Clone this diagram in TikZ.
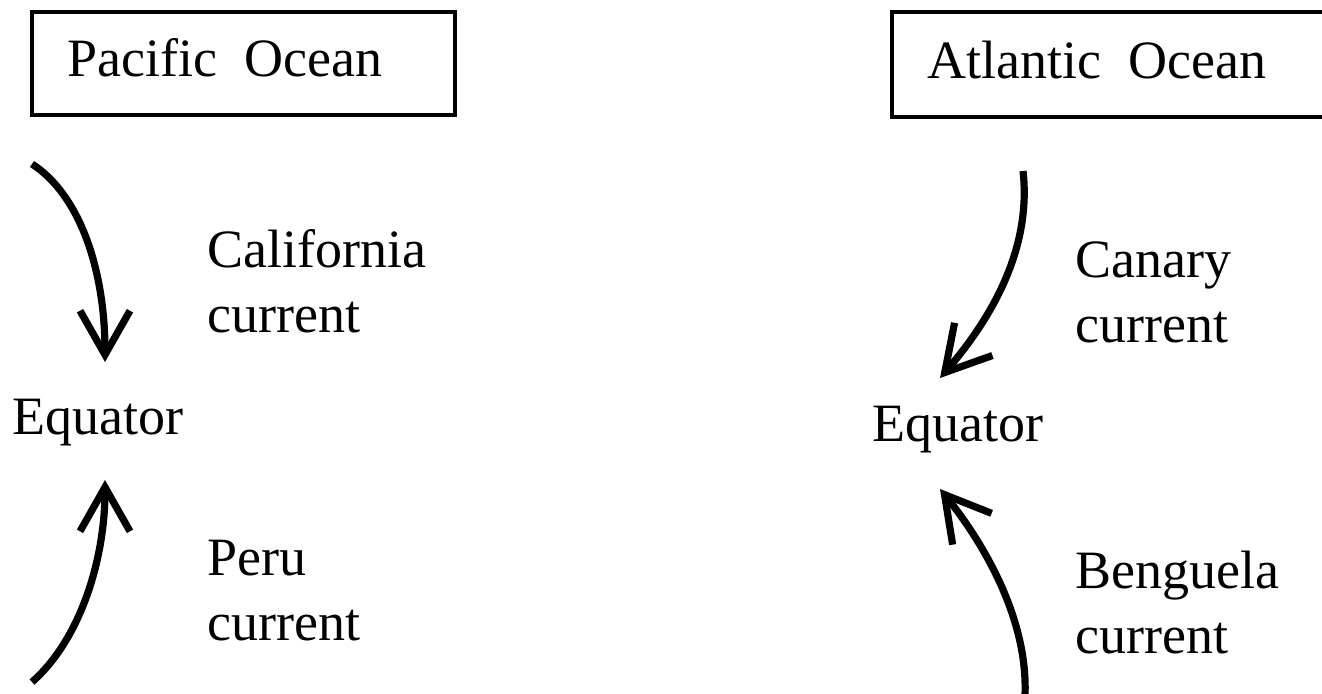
\documentclass[tikz,border=0pt]{standalone}
\usepackage{fontspec}
\setmainfont{Liberation Serif}
\usetikzlibrary{arrows.meta}
\begin{document}
\begin{tikzpicture}[x=0.5pt,y=-0.5pt,
  lbl/.style={anchor=base west,inner sep=0pt,font=\fontsize{27}{32}\selectfont},
  oceanbox/.style={draw,line width=2pt,anchor=north west,inner sep=0pt},
  flow/.style={line width=3.6pt,-{Straight Barb[length=22pt,width=25pt]}}]
\clip (0,0) rectangle (1322,693);
% ocean boxes
\node[oceanbox,minimum width=211.5pt,minimum height=51.25pt] (pacbox) at (30,10) {};
\node[oceanbox,minimum width=226pt,minimum height=52.5pt] (atlbox) at (890,10) {};
\node[lbl] (pac) at (67,76) {Pacific\ \ Ocean};
\node[lbl] (atl) at (927,78) {Atlantic\ \ Ocean};
% labels
\foreach \n/\x/\y/\t in {eqL/12/434/Equator,eqR/872/441/Equator,
  cal/207/267/California,calcur/207/332/current,peru/207/575/Peru,perucur/207/640/current,
  can/1075/277/Canary,cancur/1075/342/current,ben/1075/588/Benguela,bencur/1075/653/current}
  \node[lbl] (\n) at (\x,\y) {\t};
% currents
\coordinate (calS) at (32,164);   \coordinate (calT) at (105,362);
\coordinate (peruS) at (32,682);  \coordinate (peruT) at (105,480);
\coordinate (canS) at (1023,171); \coordinate (canT) at (940,378);
\coordinate (benS) at (1025,695); \coordinate (benT) at (940,489);
\draw[flow] (calS) .. controls (80,195) and (105,270) .. (calT);
\draw[flow] (peruS) .. controls (80,640) and (105,560) .. (peruT);
\draw[flow] (canS) .. controls (1032,250) and (990,320) .. (canT);
\draw[flow] (benS) .. controls (1028,620) and (985,545) .. (benT);
\end{tikzpicture}
\end{document}
